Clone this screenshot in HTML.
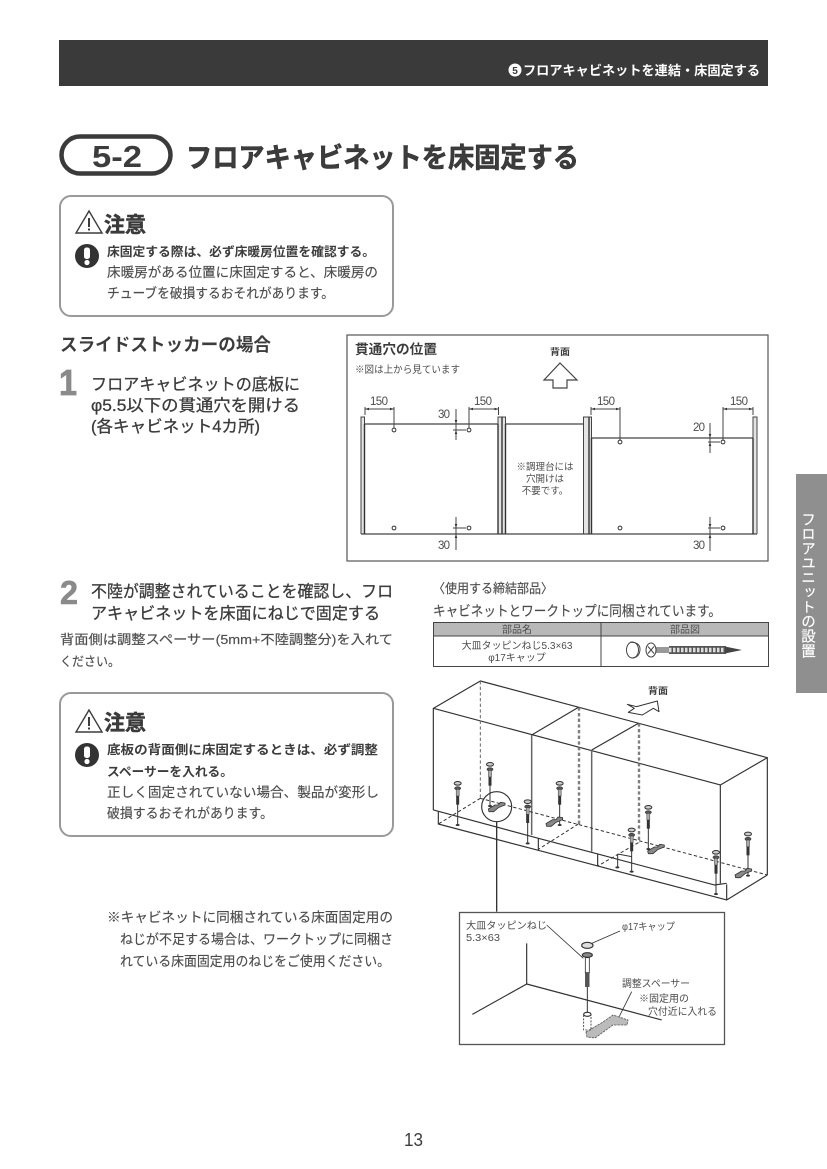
<!DOCTYPE html>
<html lang="ja">
<head>
<meta charset="utf-8">
<title>フロアキャビネットを床固定する</title>
<style>
html,body{margin:0;padding:0;background:#fff;width:827px;height:1169px;overflow:hidden}
svg{display:block}
text{font-family:"Liberation Sans","Noto Sans CJK JP",sans-serif;fill:#3c3c3c}
.b{font-weight:700}
.w{fill:#fff}
.g{fill:#4c4c4c}
.l{fill:none;stroke:#444;stroke-width:1}
.t{font-size:13.5px}
.m{stroke:#3c3c3c;stroke-width:.3px}
.s{stroke:#4c4c4c;stroke-width:.15px}
.h{stroke:#333;stroke-width:.5px}
</style>
</head>
<body>
<svg width="827" height="1169" viewBox="0 0 827 1169" xmlns="http://www.w3.org/2000/svg">
<defs>
<g id="screw">
  <ellipse cx="0" cy="0" rx="10.500" ry="5.500" fill="#ccc" stroke="#333" stroke-width="3"/>
  <ellipse cx="0" cy="15" rx="9" ry="5" fill="#555" stroke="#333" stroke-width="2"/>
  <rect x="-4.500" y="18" width="9" height="20" fill="#aaa" stroke="#333" stroke-width="1.500"/>
  <rect x="-4.500" y="38" width="9" height="26" fill="#333"/>
  <line x1="0" y1="63" x2="0" y2="125" stroke="#333" stroke-width="3"/>
  <ellipse cx="0" cy="125" rx="6" ry="3" fill="#333"/>
</g>
<g id="spacer">
  <path d="M0 20 L20 8 L30 8 L36 0 L50 2 L50 8 L30 16 L16 28 L2 28Z" fill="#888" stroke="#333" stroke-width="2.500"/>
</g>
<g id="warn">
  <path d="M14 1 L27 23 L1 23Z" fill="#fff" stroke="#3c3c3c" stroke-width="1.400"/>
  <rect x="13" y="8" width="2" height="9" fill="#3c3c3c"/>
  <rect x="13" y="18.500" width="2" height="2" fill="#3c3c3c"/>
</g>
<g id="excl">
  <circle cx="0" cy="0" r="12" fill="#333"/>
  <rect x="-3" y="-8.500" width="6" height="11.500" rx="2.500" fill="#fff"/>
  <circle cx="0" cy="6.500" r="2.600" fill="#fff"/>
</g>
</defs>

<!-- header -->
<rect x="59" y="40" width="709" height="46" fill="#3a3a3a"/>
<circle cx="515" cy="70" r="6.500" fill="#fff"/>
<text x="515" y="74" font-size="10" class="b" text-anchor="middle" style="fill:#3a3a3a">5</text>
<text x="523" y="75" font-size="13" class="b w" textLength="237" lengthAdjust="spacingAndGlyphs">フロアキャビネットを連結・床固定する</text>

<!-- title -->
<rect x="61.500" y="136.500" width="109" height="37" rx="18.500" fill="#fff" stroke="#3a3a3a" stroke-width="4.500"/>
<text x="92" y="167" font-size="31" class="b" textLength="50" lengthAdjust="spacingAndGlyphs">5-2</text>
<text x="186" y="167" font-size="27.500" class="b h" style="stroke-width:.6px" textLength="393" lengthAdjust="spacingAndGlyphs">フロアキャビネットを床固定する</text>

<!-- caution 1 -->
<rect x="60" y="196" width="333" height="120" rx="11" fill="#fff" stroke="#999" stroke-width="2"/>
<use href="#warn" x="75" y="210"/>
<text x="104" y="232" font-size="21" class="b h" textLength="42" lengthAdjust="spacingAndGlyphs">注意</text>
<use href="#excl" x="87" y="256"/>
<text x="107" y="256" font-size="12.500" class="b" textLength="268" lengthAdjust="spacingAndGlyphs">床固定する際は、必ず床暖房位置を確認する。</text>
<text x="107" y="277" class="t g s" textLength="271" lengthAdjust="spacingAndGlyphs">床暖房がある位置に床固定すると、床暖房の</text>
<text x="107" y="298" class="t g s" textLength="227" lengthAdjust="spacingAndGlyphs">チューブを破損するおそれがあります。</text>

<!-- left step 1 -->
<text x="60" y="351" font-size="18" class="b" textLength="211" lengthAdjust="spacingAndGlyphs">スライドストッカーの場合</text>
<text x="59" y="395" font-size="36" class="b" style="fill:#8a8a8a;stroke:#8a8a8a;stroke-width:.8px" textLength="18" lengthAdjust="spacingAndGlyphs">1</text>
<text x="91" y="390" font-size="16.500" class="m" textLength="209" lengthAdjust="spacingAndGlyphs">フロアキャビネットの底板に</text>
<text x="91" y="411" font-size="16.500" class="m" textLength="209" lengthAdjust="spacingAndGlyphs">φ5.5以下の貫通穴を開ける</text>
<text x="91" y="432" font-size="16.500" class="m" textLength="169" lengthAdjust="spacingAndGlyphs">(各キャビネット4カ所)</text>

<!-- position box -->
<rect x="347" y="335" width="421" height="226" fill="#fff" stroke="#555" stroke-width="1.200"/>
<text x="355" y="354" font-size="13.500" class="b" textLength="82" lengthAdjust="spacingAndGlyphs">貫通穴の位置</text>
<text x="355" y="373" font-size="10" class="g" textLength="105" lengthAdjust="spacingAndGlyphs">※図は上から見ています</text>
<text x="550" y="355" font-size="9" class="b" textLength="20" lengthAdjust="spacingAndGlyphs">背面</text>
<path d="M560 363 L577 380 L567 380 L567 388 L553 388 L553 380 L544 380Z" fill="#fff" stroke="#444" stroke-width="1.200"/>

<g class="l">
  <!-- panels -->
  <path d="M361 534 V417 H364.500 V534" fill="#e4e4e4"/>
  <path d="M498 534 V417 H505.500 V534" fill="#e4e4e4"/>
  <path d="M583.500 534 V417 H591.500 V534" fill="#e4e4e4"/>
  <path d="M753 534 V417 H757 V534" fill="#e4e4e4"/>
  <path d="M361 534 H757" stroke-width="1.200"/>
  <path d="M364.500 424 H498 M505.500 424 H583.500 M591 438 H753" stroke-width="1.200"/>
  <path d="M364.500 424 V534 M498 424 V534 M502 417 V534 M505.500 424 V534 M589 417 V534 M591.500 438 V534 M753 438 V534" stroke-width="1.400" stroke="#333"/>
  <!-- dims -->
  <path d="M365 407 V415 M394 407 V428 M365 409 H394"/>
  <path d="M469 407 V428 M498.500 407 V415 M469 409 H498.500"/>
  <path d="M591 407 V415 M620 407 V440 M591 409 H620"/>
  <path d="M723 407 V440 M753 407 V415 M723 409 H753"/>
  <path d="M456 409 V440 M453 430 H466 M456 517 V550 M453 528 H466"/>
  <path d="M710 423 V453 M708 442 H720 M710 517 V551 M708 528 H720"/>
</g>
<path d="M365 409 l4 -1.300 v2.600Z M394 409 l-4 -1.300 v2.600Z M469 409 l4 -1.300 v2.600Z M498.500 409 l-4 -1.300 v2.600Z M591 409 l4 -1.300 v2.600Z M620 409 l-4 -1.300 v2.600Z M723 409 l4 -1.300 v2.600Z M753 409 l-4 -1.300 v2.600Z M456 424 l-1.300 -4 h2.600Z M456 430 l-1.300 4 h2.600Z M456 534 l-1.300 4 h2.600Z M456 528 l-1.300 -4 h2.600Z M710 438 l-1.300 -4 h2.600Z M710 442 l-1.300 4 h2.600Z M710 534 l-1.300 4 h2.600Z M710 528 l-1.300 -4 h2.600Z" fill="#333"/>
<g fill="#fff" stroke="#333" stroke-width="1">
  <circle cx="394" cy="430" r="1.900"/><circle cx="469" cy="430" r="1.900"/>
  <circle cx="394" cy="528" r="1.900"/><circle cx="469" cy="528" r="1.900"/>
  <circle cx="620" cy="442" r="1.900"/><circle cx="723" cy="442" r="1.900"/>
  <circle cx="620" cy="528" r="1.900"/><circle cx="723" cy="528" r="1.900"/>
</g>
<g font-size="11.500">
  <text x="370" y="405" class="g" textLength="18">150</text>
  <text x="474" y="405" class="g" textLength="18">150</text>
  <text x="597" y="405" class="g" textLength="18">150</text>
  <text x="730" y="405" class="g" textLength="18">150</text>
  <text x="438" y="418" class="g" textLength="12">30</text>
  <text x="693" y="431" class="g" textLength="12">20</text>
  <text x="438" y="549" class="g" textLength="12">30</text>
  <text x="693" y="549" class="g" textLength="12">30</text>
</g>
<g font-size="9.500" text-anchor="middle">
  <text x="545" y="470" class="g">※調理台には</text>
  <text x="545" y="482" class="g">穴開けは</text>
  <text x="545" y="494" class="g">不要です。</text>
</g>

<!-- step 2 -->
<text x="60" y="604" font-size="33" class="b" style="fill:#8a8a8a;stroke:#8a8a8a;stroke-width:.6px" textLength="18" lengthAdjust="spacingAndGlyphs">2</text>
<text x="91" y="597" font-size="16.500" class="m" textLength="302" lengthAdjust="spacingAndGlyphs">不陸が調整されていることを確認し、フロ</text>
<text x="91" y="619" font-size="16.500" class="m" textLength="289" lengthAdjust="spacingAndGlyphs">アキャビネットを床面にねじで固定する</text>
<text x="60" y="644" font-size="13" class="g s" textLength="333" lengthAdjust="spacingAndGlyphs">背面側は調整スペーサー(5mm+不陸調整分)を入れて</text>
<text x="60" y="666" font-size="13" class="g s" textLength="60" lengthAdjust="spacingAndGlyphs">ください。</text>

<!-- caution 2 -->
<rect x="60" y="693" width="333" height="143" rx="11" fill="#fff" stroke="#999" stroke-width="2"/>
<use href="#warn" x="75" y="709"/>
<text x="104" y="730" font-size="21" class="b h" textLength="42" lengthAdjust="spacingAndGlyphs">注意</text>
<use href="#excl" x="87" y="755"/>
<text x="107" y="754" font-size="12.500" class="b" textLength="271" lengthAdjust="spacingAndGlyphs">底板の背面側に床固定するときは、必ず調整</text>
<text x="107" y="776" font-size="12.500" class="b" textLength="126" lengthAdjust="spacingAndGlyphs">スペーサーを入れる。</text>
<text x="107" y="797" class="t g s" textLength="272" lengthAdjust="spacingAndGlyphs">正しく固定されていない場合、製品が変形し</text>
<text x="107" y="818" class="t g s" textLength="166" lengthAdjust="spacingAndGlyphs">破損するおそれがあります。</text>

<!-- note -->
<text x="107" y="922" class="t g s" textLength="286" lengthAdjust="spacingAndGlyphs">※キャビネットに同梱されている床面固定用の</text>
<text x="120" y="944" class="t g s" textLength="273" lengthAdjust="spacingAndGlyphs">ねじが不足する場合は、ワークトップに同梱さ</text>
<text x="120" y="966" class="t g s" textLength="270" lengthAdjust="spacingAndGlyphs">れている床面固定用のねじをご使用ください。</text>

<text x="404" y="1146" font-size="18" textLength="19" lengthAdjust="spacingAndGlyphs">13</text>

<!-- side tab -->
<rect x="796" y="474" width="31" height="219" fill="#8f8f8f"/>
<text x="807" y="512" font-size="14.500" class="w" style="writing-mode:vertical-rl;stroke:#fff;stroke-width:.2px" textLength="146">フロアユニットの設置</text>

<!-- parts table -->
<text x="433" y="593" font-size="13" class="g s" textLength="120" lengthAdjust="spacingAndGlyphs">〈使用する締結部品〉</text>
<text x="433" y="616" font-size="14" class="g s" textLength="288" lengthAdjust="spacingAndGlyphs">キャビネットとワークトップに同梱されています。</text>
<rect x="433.500" y="622.500" width="335" height="44" fill="#fff" stroke="#444" stroke-width="1"/>
<rect x="433.500" y="622.500" width="335" height="13.500" fill="#b8b8b8" stroke="#444" stroke-width="1"/>
<line x1="601" y1="622" x2="601" y2="667" stroke="#444" stroke-width="1"/>
<text x="517" y="633" font-size="10" class="g" text-anchor="middle">部品名</text>
<text x="685" y="633" font-size="10" class="g" text-anchor="middle">部品図</text>
<text x="517" y="649" font-size="10" class="g" text-anchor="middle">大皿タッピンねじ5.3×63</text>
<text x="517" y="661" font-size="10" class="g" text-anchor="middle">φ17キャップ</text>
<ellipse cx="632.500" cy="650" rx="6" ry="8" fill="#fff" stroke="#444"/>
<path d="M630 642.200 Q640.500 642 640 650 Q639.500 657.500 632 658" fill="none" stroke="#444"/>
<ellipse cx="651" cy="650" rx="5" ry="7" fill="#fff" stroke="#444"/>
<path d="M648 646.500 L654 653.500 M654 646.500 L648 653.500" stroke="#444"/>
<path d="M656 648 H670 M656 650 H670 M656 652 H670" stroke="#333" stroke-width="1"/>
<rect x="669" y="646" width="57" height="8" fill="#555"/>
<path d="M669 650 H726" stroke="#ddd" stroke-width="4.500" stroke-dasharray="2.500 1.500"/>
<path d="M725 646.500 L742 650 L725 653.500Z" fill="#444"/>

<!-- isometric -->
<text x="648" y="694" font-size="9" class="b" textLength="20" lengthAdjust="spacingAndGlyphs">背面</text>
<g transform="translate(425 675) scale(.33333)" fill="none" stroke="#333" stroke-width="3.500" stroke-linejoin="round">
  <path d="M607 88 L635 95 L697 78 L702 110 L685 100 L652 120 L610 112 L628 100Z" fill="#fff" stroke-width="3"/>
  <path d="M25 100 L166 18 L1027 248 L886 330Z"/>
  <path d="M320 180 L460 97 M500 225 L640 145"/>
  <path d="M25 100 V405 M1027 248 V600 M886 330 V625"/>
  <path d="M320 180 V480 M500 225 V530" stroke="#666" stroke-width="4.500"/>
  <path d="M25 405 L340 490 L518 537 L868 630 L905 625 M40 410 V447 L340 526 L518 573 L905 675 V628 M340 490 V526 M518 537 V573 M905 675 L1027 600"/>
  <path d="M578 537 V575 M578 537 L620 545" stroke-width="3"/>
  <g stroke-dasharray="10 7" stroke-width="3">
    <path d="M166 18 V370 M460 97 V447 M464 97 V447 M640 145 V503 M644 145 V503" stroke="#666"/>
    <path d="M166 370 L1027 600 M166 370 L40 447 M460 447 L340 523 M640 503 L518 573"/>
  </g>
  <g stroke="none">
    <use href="#screw" x="98" y="325"/>
    <use href="#screw" x="195" y="268"/>
    <use href="#screw" x="308" y="380"/>
    <use href="#screw" x="404" y="325"/>
    <use href="#screw" x="620" y="465"/>
    <use href="#screw" x="670" y="397"/>
    <use href="#screw" x="873" y="532"/>
    <use href="#screw" x="969" y="477"/>
    <ellipse cx="577" cy="577" rx="6" ry="3" fill="#333"/>
    <use href="#spacer" x="190" y="382"/>
    <use href="#spacer" x="363" y="426"/>
    <use href="#spacer" x="668" y="508"/>
    <use href="#spacer" x="930" y="580"/>
  </g>
  <circle cx="215" cy="395" r="45"/>
  <path d="M215 440 V710" stroke-width="4"/>
</g>

<!-- detail box -->
<rect x="459.500" y="912.500" width="265" height="132" fill="#fff" stroke="#555" stroke-width="1.300"/>
<g transform="translate(455 905) scale(.33333)" fill="none" stroke="#333" stroke-width="3.500">
  <path d="M215 115 V237 L52 328 M215 237 L620 345"/>
  <path d="M275 60 L385 160 M495 78 L410 115 M530 260 L490 340" stroke-width="2.500"/>
  <path d="M393 381 L444 351 L474 330 L519 345 L516 360 L474 360 L420 399 L396 396Z" fill="#bbb" stroke="#555" stroke-width="2.500" stroke-dasharray="7 3"/>
  <ellipse cx="397" cy="121" rx="17" ry="9" fill="#ddd"/>
  <ellipse cx="397" cy="150" rx="15" ry="7" fill="#888"/>
  <rect x="391" y="158" width="12" height="45" fill="#fff" stroke-width="2.500"/>
  <rect x="391" y="203" width="12" height="42" fill="#555" stroke-width="1"/>
  <path d="M397 245 V322" stroke-width="3"/>
  <ellipse cx="397" cy="328" rx="11" ry="6" fill="#fff"/>
  <path d="M386 330 V375 L408 375 V330" stroke-dasharray="6 4" stroke-width="2.500"/>
</g>
<g font-size="10">
  <text x="466" y="929" class="g" textLength="81" lengthAdjust="spacingAndGlyphs">大皿タッピンねじ</text>
  <text x="466" y="941" class="g" textLength="34" lengthAdjust="spacingAndGlyphs">5.3×63</text>
  <text x="622" y="930" class="g" textLength="53" lengthAdjust="spacingAndGlyphs">φ17キャップ</text>
  <text x="622" y="987" class="g" textLength="68" lengthAdjust="spacingAndGlyphs">調整スペーサー</text>
  <text x="639" y="1002" class="g" textLength="50" lengthAdjust="spacingAndGlyphs">※固定用の</text>
  <text x="648" y="1015" class="g" textLength="69" lengthAdjust="spacingAndGlyphs">穴付近に入れる</text>
</g>
</svg>
</body>
</html>
